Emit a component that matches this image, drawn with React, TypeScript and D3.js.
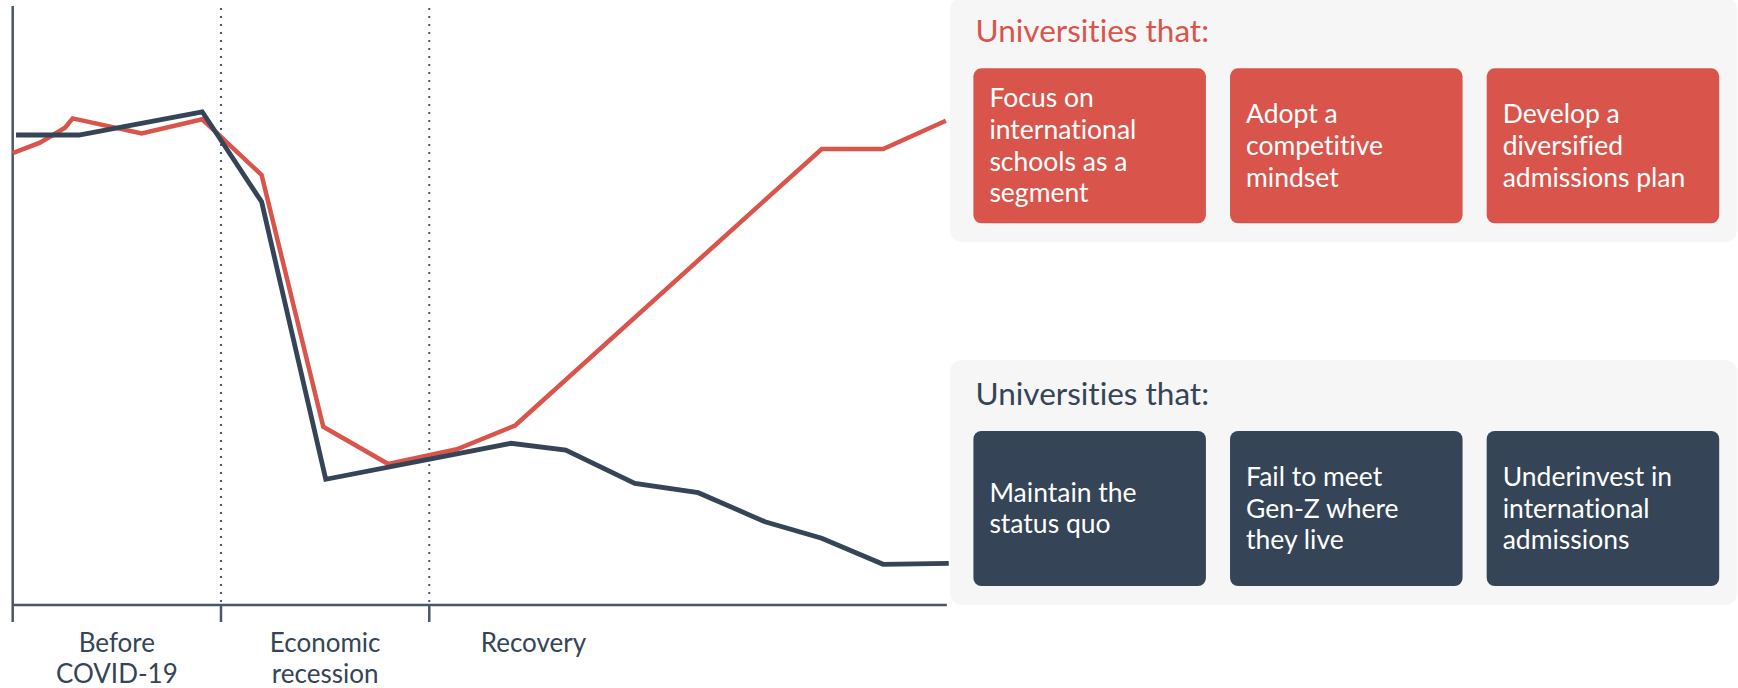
import * as React from 'react'
import { useEffect, useRef } from 'react'
import * as d3 from 'd3'

// phase units: each phase spans 10 units on the x axis
const phases = [
  { label: ['Before', 'COVID-19'], start: 0, end: 10 },
  { label: ['Economic', 'recession'], start: 10, end: 20 },
  { label: ['Recovery'], start: 20, end: 30 },
]

const redSeries: [number, number][] = [
  [0, 75.3], [1.31, 77.05], [2.51, 79.55], [2.88, 81.1], [6.19, 78.6],
  [9.1, 80.95], [11.95, 71.67], [14.91, 29.72], [18.03, 23.5], [21.32, 25.95],
  [24.12, 29.92], [38.84, 76], [41.79, 76], [44.8, 80.72],
]

const darkSeries: [number, number][] = [
  [0.16, 78.33], [3.18, 78.33], [9.1, 82.2], [11.95, 67.2], [15.03, 20.95],
  [21.32, 25.17], [23.92, 26.95], [26.55, 25.83], [29.87, 20.28], [32.91, 18.72],
  [36.12, 13.88], [38.84, 11.12], [41.79, 6.78], [44.94, 6.95],
]

const redTitle = 'Universities that:'
const redItems = [
  ['Focus on', 'international', 'schools as a', 'segment'],
  ['Adopt a', 'competitive', 'mindset'],
  ['Develop a', 'diversified', 'admissions plan'],
]
const darkTitle = 'Universities that:'
const darkItems = [
  ['Maintain the', 'status quo'],
  ['Fail to meet', 'Gen-Z where', 'they live'],
  ['Underinvest in', 'international', 'admissions'],
]

const RED = '#d9554b'
const DARK = '#354456'
const AXIS = '#4a5768'
const WIDTH = 1738
const HEIGHT = 688

export default function App() {
  const svgRef = useRef<SVGSVGElement>(null)

  useEffect(() => {
    if (!svgRef.current) return
    const svg = d3.select(svgRef.current)
    svg.selectAll('*').remove()

    const font = 'Lato, "Noto Sans", sans-serif'
    const x = d3.scaleLinear().domain([0, 45]).range([12.7, 950])
    const y = d3.scaleLinear().domain([0, 100]).range([605, 5])
    const axisEnd = 44.85
    const tickLen = 17

    const g = svg.append('g')

    // dotted phase separators
    g.selectAll('.sep')
      .data([10, 20])
      .join('line')
      .attr('x1', d => x(d))
      .attr('x2', d => x(d))
      .attr('y1', 8)
      .attr('y2', y(0))
      .attr('stroke', AXIS)
      .attr('stroke-width', 2)
      .attr('stroke-dasharray', '2 6')

    // axes
    g.append('line')
      .attr('x1', x(0)).attr('x2', x(0))
      .attr('y1', 6).attr('y2', y(0) + tickLen)
      .attr('stroke', AXIS).attr('stroke-width', 2.5)
    g.append('line')
      .attr('x1', x(0)).attr('x2', x(axisEnd))
      .attr('y1', y(0)).attr('y2', y(0))
      .attr('stroke', AXIS).attr('stroke-width', 2.5)
    g.selectAll('.tick')
      .data([10, 20])
      .join('line')
      .attr('x1', d => x(d)).attr('x2', d => x(d))
      .attr('y1', y(0)).attr('y2', y(0) + tickLen)
      .attr('stroke', AXIS).attr('stroke-width', 2.5)

    // phase labels
    phases.forEach(p => {
      const t = g.append('text')
        .attr('x', x((p.start + p.end) / 2))
        .attr('y', 652)
        .attr('text-anchor', 'middle')
        .attr('font-family', font)
        .attr('font-size', 26)
        .attr('fill', DARK)
        .style('font-variant-ligatures', 'none')
      p.label.forEach((l, i) => {
        t.append('tspan')
          .attr('x', x((p.start + p.end) / 2))
          .attr('dy', i === 0 ? 0 : 31)
          .text(l)
      })
    })

    // lines
    const line = d3.line<[number, number]>()
      .x(d => x(d[0]))
      .y(d => y(d[1]))

    g.append('path')
      .attr('d', line(redSeries) || '')
      .attr('fill', 'none')
      .attr('stroke', RED)
      .attr('stroke-width', 4.5)

    g.append('path')
      .attr('d', line(darkSeries) || '')
      .attr('fill', 'none')
      .attr('stroke', DARK)
      .attr('stroke-width', 4.8)

    // panels
    const drawPanel = (top: number, bottom: number, title: string, color: string, items: string[][]) => {
      const pg = svg.append('g').style('font-variant-ligatures', 'none')
      pg.append('rect')
        .attr('x', 950).attr('y', top)
        .attr('width', 787).attr('height', bottom - top)
        .attr('rx', 12)
        .attr('fill', '#f6f6f6')
      pg.append('text')
        .attr('x', 975.5)
        .attr('y', top + 45)
        .attr('font-family', font)
        .attr('font-size', 31.5)
        .attr('fill', color)
        .text(title)

      const boxTop = top + 71
      const boxH = 155
      const boxX = d3.scaleBand<number>().domain([0, 1, 2]).range([973.4, 1719.2]).paddingInner(0.094)
      items.forEach((lines, i) => {
        pg.append('rect')
          .attr('x', boxX(i)!)
          .attr('y', boxTop)
          .attr('width', boxX.bandwidth())
          .attr('height', boxH)
          .attr('rx', 8)
          .attr('fill', color)
        const cy = boxTop + boxH / 2
        const lh = 31.7
        lines.forEach((l, j) => {
          pg.append('text')
            .attr('x', boxX(i)! + 16)
            .attr('y', cy + (j - (lines.length - 1) / 2) * lh + 9)
            .attr('font-family', font)
            .attr('font-size', 26.5)
            .attr('fill', '#ffffff')
            .text(l)
        })
      })
    }

    drawPanel(-2.7, 242, redTitle, RED, redItems)
    drawPanel(360, 605, darkTitle, DARK, darkItems)
  }, [])

  return (
    <svg
      ref={svgRef}
      width={WIDTH}
      height={HEIGHT}
      style={{ position: 'absolute', left: 0, top: 0, display: 'block', background: '#ffffff' }}
    />
  )
}
